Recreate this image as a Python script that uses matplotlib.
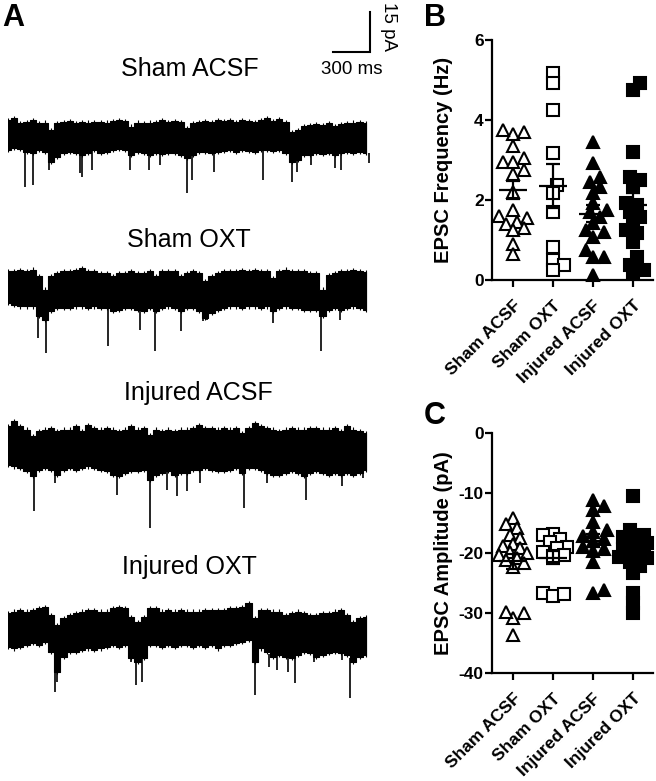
import numpy as np
import matplotlib.pyplot as plt

plt.rcParams['font.family'] = ['Liberation Sans', 'DejaVu Sans']
plt.rcParams['axes.unicode_minus'] = False

groups = ["Sham ACSF", "Sham OXT", "Injured ACSF", "Injured OXT"]

# EPSC frequency (Hz), one value per cell
freq_sham_acsf = [3.65, 3.70, 3.75, 3.35, 3.05, 2.95, 2.95, 2.75, 2.65, 2.20,
                  1.75, 1.60, 1.55, 1.45, 1.40, 1.30, 1.25, 0.90, 0.65]
freq_sham_oxt = [5.17, 4.92, 4.25, 3.17, 2.38, 2.17, 1.71, 0.83, 0.50, 0.38, 0.25]
freq_inj_acsf = [3.46, 2.92, 2.58, 2.46, 2.33, 2.17, 1.92, 1.75, 1.71, 1.58,
                 1.42, 1.25, 1.21, 1.08, 0.75, 0.58, 0.58, 0.12]
freq_inj_oxt = [4.92, 4.75, 3.21, 2.58, 2.50, 2.33, 1.92, 1.88, 1.71, 1.58,
                1.42, 1.25, 1.17, 0.96, 0.58, 0.38, 0.25, 0.17]

# EPSC amplitude (pA)
amp_sham_acsf = [-14.2, -15.2, -15.9, -17.0, -17.5, -18.5, -18.8, -19.2, -19.8, -20.0,
                 -20.3, -20.8, -21.2, -21.6, -22.3, -30.0, -30.8, -29.8, -33.6]
amp_sham_oxt = [-16.8, -17.0, -17.6, -18.2, -19.0, -19.2, -19.8, -20.3, -20.5,
                -26.7, -27.2, -26.9]
amp_inj_acsf = [-11.2, -12.2, -12.9, -14.8, -16.2, -16.5, -17.2, -17.6, -18.0, -19.0,
                -19.6, -19.3, -21.5, -26.1, -26.7]
amp_inj_oxt = [-10.5, -16.2, -17.0, -17.3, -17.6, -18.4, -19.0, -19.3, -19.8, -20.1,
               -20.7, -20.9, -21.5, -22.2, -23.4, -26.7, -28.3, -30.0]

# example traces: noise band edges (pA around baseline) every 50 ms, plus events
trace_t = np.arange(59) * 0.05
sham_acsf_top = [6.4, 7.0, 5.1, 5.75, 6.4, 5.1, 5.4, 2.6, 5.1, 5.75,
                 6.1, 5.1, 5.75, 5.4, 5.75, 5.75, 5.4, 6.1, 6.4, 6.1,
                 3.9, 5.4, 5.1, 5.4, 5.75, 6.4, 5.75, 6.1, 5.75, 3.25,
                 5.1, 5.75, 6.1, 5.75, 6.4, 6.1, 6.4, 5.75, 6.4, 6.1,
                 5.75, 6.4, 7.0, 6.1, 6.6, 5.75, 2.0, 2.6, 4.1, 4.5,
                 4.9, 4.5, 5.1, 4.1, 4.9, 5.1, 5.4, 5.75, 5.1]
sham_acsf_bot = [-4.9, -4.25, -4.6, -5.5, -6.1, -4.9, -5.5, -9.25, -7.4, -6.1,
                 -5.5, -6.1, -6.75, -6.1, -4.9, -5.9, -5.5, -4.9, -4.6, -4.9,
                 -6.75, -5.5, -6.1, -6.75, -5.9, -6.4, -6.1, -6.1, -6.75, -8.0,
                 -6.75, -5.5, -5.5, -5.9, -5.5, -5.1, -4.9, -5.5, -4.9, -5.1,
                 -5.5, -4.9, -4.9, -5.1, -4.9, -6.1, -9.25, -8.6, -6.75, -6.75,
                 -6.1, -6.4, -5.9, -6.75, -6.1, -5.5, -6.1, -5.5, -5.9]
sham_acsf_ev_t = [0.14, 0.20, 0.33, 0.58, 0.60, 0.68, 0.99, 1.14, 1.23, 1.45,
                  1.49, 1.67, 2.07, 2.30, 2.34, 2.46, 2.65, 2.70, 2.93]
sham_acsf_ev_a = [-18.6, -18.0, -12.4, -13.6, -14.9, -12.4, -12.4, -12.4, -10.5, -21.1,
                  -16.1, -13.0, -16.1, -16.8, -13.0, -10.5, -11.8, -12.4, -9.9]

sham_oxt_top = [6.25, 6.25, 6.6, 6.25, 6.9, 4.4, -0.6, 4.4, 5.6, 6.25,
                6.25, 6.6, 7.5, 6.25, 6.25, 5.6, 5.6, 4.4, 5.6, 5.6,
                6.25, 5.6, 5.6, 6.25, 4.4, 6.25, 6.25, 6.25, 4.4, 5.6,
                6.25, 5.6, 2.5, 4.4, 5.6, 6.25, 6.25, 6.25, 6.6, 6.25,
                6.6, 6.25, 6.25, 3.75, 6.25, 6.9, 6.25, 6.25, 6.25, 5.6,
                5.6, -0.6, 5.0, 5.6, 6.25, 6.25, 6.6, 6.25, 5.9]
sham_oxt_bot = [-5.6, -6.25, -6.9, -6.9, -6.9, -10.6, -11.9, -8.75, -7.5, -7.5,
                -7.5, -6.9, -6.9, -7.5, -6.9, -7.5, -7.5, -8.75, -8.1, -7.5,
                -7.5, -8.1, -8.75, -7.5, -8.75, -7.5, -6.9, -7.5, -8.75, -7.5,
                -7.5, -8.75, -11.25, -9.4, -8.1, -7.5, -6.9, -6.9, -7.5, -6.9,
                -6.9, -7.5, -6.9, -8.75, -7.5, -6.9, -7.5, -7.5, -8.1, -8.1,
                -8.1, -10.6, -8.1, -7.5, -8.1, -7.5, -6.9, -7.5, -8.1]
sham_oxt_ev_t = [0.24, 0.31, 0.81, 1.07, 1.19, 1.40, 1.58, 1.61, 2.15, 2.54, 2.69]
sham_oxt_ev_a = [-18.75, -24.4, -21.9, -15.6, -23.75, -16.25, -12.5, -11.9, -13.1, -23.75, -11.9]

inj_acsf_top = [8.1, 10.0, 8.1, 6.9, 4.4, 6.25, 6.9, 7.5, 6.25, 6.9,
                6.9, 8.1, 6.25, 8.75, 7.5, 6.9, 7.5, 6.9, 6.25, 6.9,
                8.1, 6.9, 7.5, 5.0, 6.9, 6.25, 6.9, 6.25, 6.9, 6.9,
                7.5, 8.75, 7.5, 7.5, 6.9, 7.5, 6.9, 7.5, 5.6, 7.5,
                9.4, 8.1, 7.5, 6.9, 6.25, 6.9, 7.5, 6.9, 6.9, 7.5,
                7.5, 6.9, 6.9, 7.5, 6.25, 8.1, 6.9, 6.25, 5.6]
inj_acsf_bot = [-6.25, -6.9, -7.5, -8.75, -10.6, -8.1, -7.5, -8.1, -10.0, -8.1,
                -7.5, -8.1, -7.5, -6.9, -7.5, -8.1, -8.75, -10.0, -10.6, -9.4,
                -8.75, -8.75, -8.1, -11.9, -10.0, -9.4, -8.75, -10.0, -9.4, -9.4,
                -8.1, -8.1, -7.5, -8.1, -8.75, -8.75, -8.1, -7.5, -9.4, -7.5,
                -7.5, -8.1, -9.4, -10.0, -10.0, -9.4, -8.75, -9.4, -10.6, -9.4,
                -8.75, -9.4, -10.0, -9.4, -10.0, -9.4, -10.0, -9.4, -8.1]
inj_acsf_ev_t = [0.21, 0.38, 0.88, 1.15, 1.29, 1.37, 1.45, 1.56, 1.91, 2.10, 2.42, 2.71, 2.88]
inj_acsf_ev_a = [-23.75, -13.1, -17.5, -30.0, -15.6, -18.1, -16.25, -13.1, -22.5, -13.1,
                 -19.4, -14.4, -11.25]

inj_oxt_top = [6.25, 6.9, 7.5, 6.9, 7.5, 8.1, 8.75, 5.6, 1.9, 4.4,
               5.6, 6.25, 6.9, 7.5, 7.5, 6.9, 6.9, 8.1, 8.75, 8.1,
               5.0, 3.1, 5.0, 8.1, 8.1, 6.9, 7.5, 6.9, 7.5, 6.9,
               6.9, 6.9, 7.5, 7.5, 7.5, 7.5, 8.1, 8.1, 8.75, 10.0,
               4.4, 7.5, 7.5, 6.9, 6.9, 5.6, 6.25, 6.9, 6.25, 5.6,
               5.6, 6.25, 6.25, 6.9, 7.5, 5.6, 3.1, 4.4, 5.0]
inj_oxt_bot = [-6.25, -6.9, -6.25, -5.6, -5.0, -5.6, -4.4, -8.1, -15.6, -10.0,
               -8.1, -8.1, -7.5, -6.9, -7.5, -6.9, -6.25, -5.6, -6.25, -5.6,
               -10.6, -11.9, -10.6, -5.6, -5.6, -6.25, -5.6, -6.25, -5.6, -5.6,
               -6.25, -5.6, -6.25, -5.6, -6.9, -5.6, -5.6, -5.0, -4.4, -3.75,
               -11.9, -6.9, -8.1, -10.0, -9.4, -10.0, -10.6, -9.4, -8.1, -8.75,
               -10.0, -9.4, -8.75, -8.1, -8.75, -9.4, -11.9, -10.0, -9.4]
inj_oxt_ev_t = [0.38, 0.40, 1.00, 1.04, 1.09, 2.00, 2.12, 2.18, 2.27, 2.33, 2.48, 2.71, 2.77]
inj_oxt_ev_a = [-23.1, -19.4, -11.9, -20.6, -19.4, -24.4, -13.75, -15.0, -15.6, -20.0,
                -11.9, -11.25, -25.6]

W, H = 656, 781
PX_S = 37 / 0.3      # pixels per second (300 ms scale bar)
PX_PA = 40 / 15.0    # pixels per pA (15 pA scale bar)

fig = plt.figure(figsize=(W / 100, H / 100), dpi=100)

# ---- panel A: traces
axA = fig.add_axes([8 / W, 0, 400 / W, 1])
axA.set_xlim(0, 400 / PX_S)
axA.set_ylim(-H / PX_PA, 0)
axA.axis('off')

traces = [
    (sham_acsf_top, sham_acsf_bot, sham_acsf_ev_t, sham_acsf_ev_a),
    (sham_oxt_top, sham_oxt_bot, sham_oxt_ev_t, sham_oxt_ev_a),
    (inj_acsf_top, inj_acsf_bot, inj_acsf_ev_t, inj_acsf_ev_a),
    (inj_oxt_top, inj_oxt_bot, inj_oxt_ev_t, inj_oxt_ev_a),
]
base_px = [137, 288, 448, 630]
title_xy = [(190, 76), (189, 247), (198, 400), (189, 574)]

for (top, bot, ev_t, ev_a), bp, (tx, ty), name in zip(traces, base_px, title_xy, groups):
    b = -bp / PX_PA
    top = np.array(top)
    bot = np.array(bot)
    axA.fill_between(trace_t, b + bot, b + top, step='mid', color='black', lw=0.8)
    axA.vlines(trace_t, b + bot - 0.8, b + top + 0.8, color='black', lw=0.8)
    ev_t = np.array(ev_t)
    axA.vlines(ev_t, b + np.interp(ev_t, trace_t, bot), b + np.array(ev_a),
               color='black', lw=1.2)
    axA.text((tx - 8) / PX_S, -ty / PX_PA, name, ha='center', va='baseline', fontsize=18)

# scale bar
x1 = (370 - 8) / PX_S
y1 = -52 / PX_PA
axA.plot([x1 - 0.3, x1, x1], [y1, y1, y1 + 15], color='black', lw=1.5, solid_joinstyle='miter')
axA.text(x1 - 0.15, -69 / PX_PA, "300 ms", ha='center', va='center', fontsize=13.5)
axA.text(x1 + 19 / PX_S, y1 + 7.5 + 2, "15 pA", ha='center', va='center', rotation=-90,
         fontsize=13.5)

fig.text(2 / W, 1 - 3 / H, "A", fontsize=22, fontweight='bold', va='top', ha='left')
fig.text(424 / W, 1 - 3 / H, "B", fontsize=22, fontweight='bold', va='top', ha='left')
fig.text(424 / W, 1 - 401 / H, "C", fontsize=22, fontweight='bold', va='top', ha='left')


def swarm(vals, px_y, px_x, diam=9.0, step=3.5, max_px=16):
    vals = np.asarray(vals, dtype=float)
    placed = []
    offs = np.zeros(len(vals))
    cands = [0.0]
    for j in range(1, 8):
        cands += [j * step, -j * step]
    cands = [c for c in cands if abs(c) <= max_px]
    for i in np.argsort(vals):
        y = vals[i] * px_y
        best, best_d = 0.0, -1
        for c in cands:
            d = min([np.hypot(c - px, y - py) for px, py in placed] or [1e9])
            if d >= diam:
                best = c
                break
            if d > best_d:
                best, best_d = c, d
        placed.append((best, y))
        offs[i] = best / px_x
    return offs


markers = [('^', 'white'), ('s', 'white'), ('^', 'black'), ('s', 'black')]


def dot_panel(ax, data, ylim, yticks, ylabel, px_y):
    ax.set_xlim(-0.525, 3.5)
    ax.set_ylim(*ylim)
    for i, (vals, (m, fc)) in enumerate(zip(data, markers)):
        vals = np.array(vals)
        x = i + swarm(vals, px_y, 40.0)
        ax.plot(x, vals, ls='none', marker=m, ms=9 if m == '^' else 8,
                mfc=fc, mec='black', mew=1.5, zorder=3, clip_on=False)
        mean = vals.mean()
        sem = vals.std(ddof=1) / np.sqrt(len(vals))
        ax.hlines(mean, i - 0.35, i + 0.35, color='black', lw=1.6, zorder=4)
        ax.errorbar(i, mean, yerr=sem, color='black', elinewidth=1.6, capsize=5,
                    capthick=1.6, zorder=4)
    for s in ['top', 'right']:
        ax.spines[s].set_visible(False)
    for s in ['left', 'bottom']:
        ax.spines[s].set_linewidth(1.6)
    ax.set_yticks(yticks)
    ax.set_xticks(range(4))
    ax.set_xticklabels(groups, rotation=45, ha='right', rotation_mode='anchor',
                       fontweight='bold', fontsize=12.5)
    ax.tick_params(axis='y', width=1.6, length=5, labelsize=12.5, pad=1)
    ax.tick_params(axis='x', width=1.6, length=5, pad=8)
    for lab in ax.get_yticklabels():
        lab.set_fontweight('bold')
    ax.set_ylabel(ylabel, fontsize=14.5, fontweight='bold')
    ax.yaxis.set_label_coords(-0.30, 0.5)
    ax.yaxis.label.set_va('center')


axB = fig.add_axes([492 / W, (H - 280) / H, 161 / W, 240 / H])
dot_panel(axB, [freq_sham_acsf, freq_sham_oxt, freq_inj_acsf, freq_inj_oxt],
          (0, 6), [0, 2, 4, 6], "EPSC Frequency (Hz)", 40.0)

axC = fig.add_axes([492 / W, (H - 673) / H, 161 / W, 240 / H])
dot_panel(axC, [amp_sham_acsf, amp_sham_oxt, amp_inj_acsf, amp_inj_oxt],
          (-40, 0), [0, -10, -20, -30, -40], "EPSC Amplitude (pA)", 6.0)

fig.savefig("out.png", dpi=100)
